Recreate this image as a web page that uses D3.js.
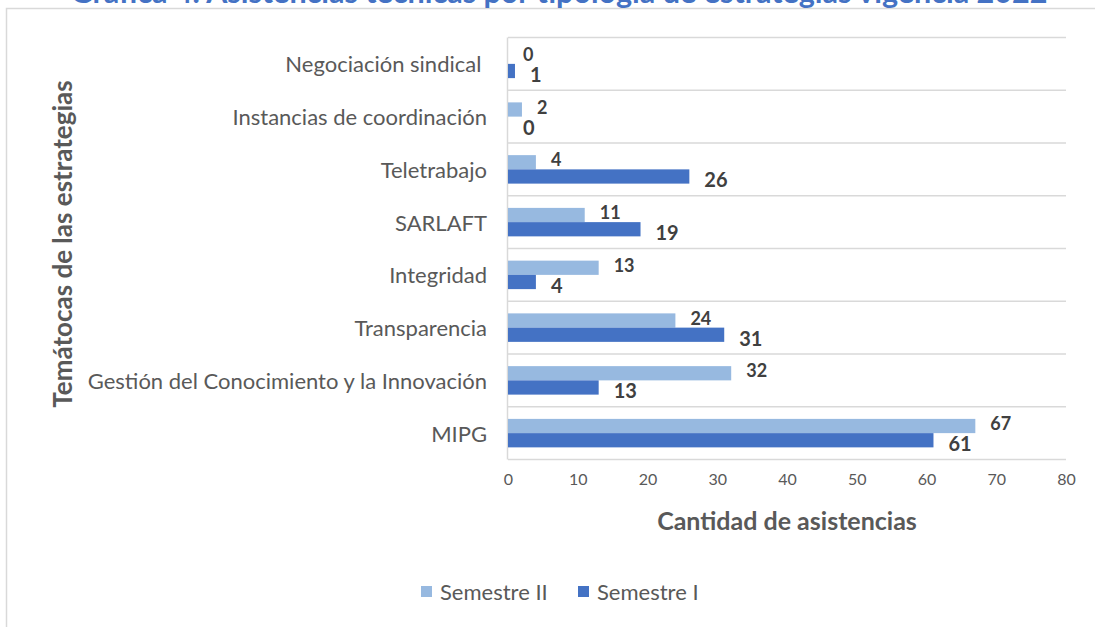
<!DOCTYPE html>
<html>
<head>
<meta charset="utf-8">
<script src="https://cdn.jsdelivr.net/npm/d3@7/dist/d3.min.js"></script>
<style>
  body { margin: 0; background: #fff; }
  text { font-family: Lato, "Open Sans", sans-serif; }
</style>
</head>
<body>
<div id="chart"></div>
<script>
// categories from top to bottom
const categories = [
  "Negociación sindical ",
  "Instancias de coordinación",
  "Teletrabajo",
  "SARLAFT",
  "Integridad",
  "Transparencia",
  "Gestión del Conocimiento y la Innovación",
  "MIPG"
];
const semestreII = [0, 2, 4, 11, 13, 24, 32, 67];
const semestreI = [1, 0, 26, 19, 4, 31, 13, 61];
const seriesNames = ["Semestre II", "Semestre I"];
const xTicks = [0, 10, 20, 30, 40, 50, 60, 70, 80];

const width = 1095, height = 627;
const gray = "#595959";
const colors = ["#97b9e0", "#4472c4"];

let svg = d3
  .select("#chart")
  .append("svg")
  .attr("width", width)
  .attr("height", height);

// frame of the chart area
svg.append("path")
  .attr("d", "M6.5,627 L6.5,8.5 L1095,8.5")
  .attr("fill", "none")
  .attr("stroke", "#d9d9d9")
  .attr("stroke-width", 1.5);

// title, partly cut at the top as in the original
svg.append("text")
  .attr("x", 559)
  .attr("y", 3)
  .attr("text-anchor", "middle")
  .attr("fill", "#4472c4")
  .attr("font-weight", "bold")
  .attr("font-size", 30.5)
  .text("Gráfica 4. Asistencias técnicas por tipología de estrategias vigencia 2022");

let x = d3.scaleLinear().domain([0, 80]).range([508, 1066]);
let y = d3.scaleBand().domain(categories).range([37.5, 459.5])
  .paddingInner(0.46).paddingOuter(0.23);
let ySub = d3.scaleBand().domain(seriesNames).range([0, y.bandwidth()]);

// horizontal gridlines at category boundaries
let bounds = categories.map(c => y(c) - y.step() * y.paddingInner() / 2);
bounds.push(459.5);
svg.append("g")
  .selectAll("line")
  .data(bounds)
  .join("line")
  .attr("x1", 508)
  .attr("x2", 1066)
  .attr("y1", d => d)
  .attr("y2", d => d)
  .attr("stroke", "#d9d9d9")
  .attr("stroke-width", 1.5);

// vertical axis line
svg.append("line")
  .attr("x1", 507.5).attr("x2", 507.5)
  .attr("y1", 37.5).attr("y2", 459.5)
  .attr("stroke", "#d9d9d9")
  .attr("stroke-width", 1.5);

// x axis
let xAxis = svg.append("g")
  .attr("transform", "translate(0,474)")
  .call(d3.axisBottom(x).tickValues(xTicks).tickSize(0).tickPadding(0));
xAxis.select(".domain").remove();
xAxis.selectAll("text")
  .attr("fill", gray)
  .attr("font-size", 16)
  .attr("font-family", "Lato, sans-serif");

// y axis labels
let yAxis = svg.append("g")
  .attr("transform", "translate(487,1.5)")
  .call(d3.axisLeft(y).tickSize(0).tickPadding(0));
yAxis.select(".domain").remove();
yAxis.selectAll("text")
  .attr("fill", gray)
  .attr("font-size", 22)
  .attr("font-family", "Lato, sans-serif")
  .style("white-space", "pre");

const series = [
  { name: seriesNames[0], values: semestreII, color: colors[0], size: 18, dy: -3 },
  { name: seriesNames[1], values: semestreI, color: colors[1], size: 20, dy: 3 }
];

series.forEach(s => {
  let rows = categories.map((c, i) => ({ cat: c, v: s.values[i] }));
  let g = svg.append("g");
  g.selectAll("rect")
    .data(rows)
    .join("rect")
    .attr("x", x(0))
    .attr("y", d => y(d.cat) + ySub(s.name))
    .attr("width", d => x(d.v) - x(0))
    .attr("height", ySub.bandwidth())
    .attr("fill", s.color);

  g.selectAll("text")
    .data(rows)
    .join("text")
    .attr("x", d => x(d.v) + 15)
    .attr("y", d => y(d.cat) + ySub(s.name) + ySub.bandwidth() / 2 + s.dy)
    .attr("dominant-baseline", "central")
    .attr("fill", "#404040")
    .attr("font-weight", "bold")
    .attr("font-size", s.size)
    .text(d => d.v);
});

// axis titles
svg.append("text")
  .attr("x", 787)
  .attr("y", 530)
  .attr("text-anchor", "middle")
  .attr("fill", gray)
  .attr("font-weight", "bold")
  .attr("font-size", 25)
  .text("Cantidad de asistencias");

svg.append("text")
  .attr("transform", "translate(72,244) rotate(-90)")
  .attr("text-anchor", "middle")
  .attr("fill", gray)
  .attr("font-weight", "bold")
  .attr("font-size", 26)
  .text("Temátocas de las estrategias");

// legend
let legend = svg.append("g")
  .selectAll("g")
  .data(series)
  .join("g")
  .attr("transform", (d, i) => `translate(${[421, 578][i]},586)`);
legend.append("rect")
  .attr("width", 11)
  .attr("height", 11)
  .attr("fill", d => d.color);
legend.append("text")
  .attr("x", 19)
  .attr("y", 5)
  .attr("dominant-baseline", "central")
  .attr("fill", gray)
  .attr("font-size", 22)
  .text(d => d.name);
</script>
</body>
</html>
